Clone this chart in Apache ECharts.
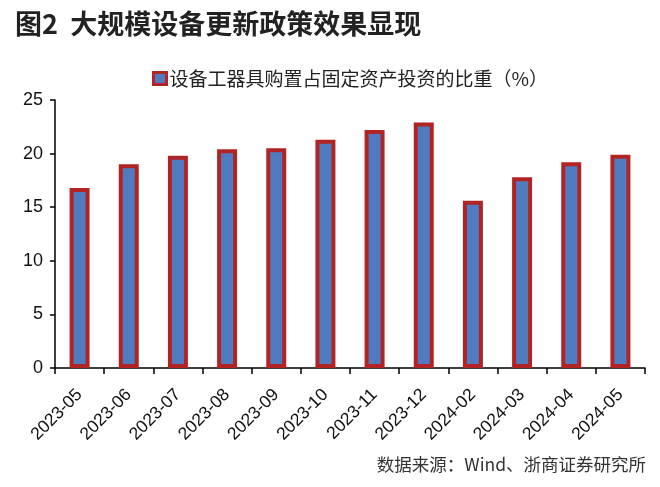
<!DOCTYPE html>
<html>
<head>
<meta charset="utf-8">
<script src="https://cdn.jsdelivr.net/npm/echarts@6/dist/echarts.min.js"></script>
<style>
html,body{margin:0;padding:0;background:#fff;}
#c{width:660px;height:487px;}
</style>
</head>
<body>
<div id="c"></div>
<script>
const categories = ['2023-05','2023-06','2023-07','2023-08','2023-09','2023-10','2023-11','2023-12','2024-02','2024-03','2024-04','2024-05'];
const shareValues = [16.8, 19.0, 19.8, 20.4, 20.5, 21.3, 22.2, 22.9, 15.6, 17.8, 19.2, 19.9];
const yTicks = [0, 5, 10, 15, 20, 25];
const seriesName = '设备工器具购置占固定资产投资的比重（%）';
const titleText = '图2  大规模设备更新政策效果显现';
const sourceText = '数据来源：Wind、浙商证券研究所';

const chart = echarts.init(document.getElementById('c'), null, {renderer:'canvas'});
chart.setOption({
  backgroundColor:'#ffffff',
  animation:false,
  title:{
    text:titleText,
    left:10, top:5,
    textStyle:{fontFamily:'Noto Sans CJK SC', fontSize:27, fontWeight:'bold', color:'#222'}
  },
  legend:{
    data:[seriesName],
    left:147, top:64,
    icon:'rect',
    itemWidth:13, itemHeight:12, itemGap:4,
    itemStyle:{color:'#4f7cc0', borderColor:'#b22424', borderWidth:3},
    textStyle:{fontFamily:'Noto Sans CJK SC', fontSize:19, color:'#222', padding:[0,0,0,-2]}
  },
  grid:{left:55, right:15, top:100, bottom:119, containLabel:false},
  xAxis:{
    type:'category',
    data:categories,
    boundaryGap:true,
    axisLine:{lineStyle:{color:'#000', width:1.5}},
    axisTick:{show:true, length:6, inside:false, lineStyle:{color:'#000', width:1.5}},
    axisLabel:{rotate:45, margin:24, interval:0, fontFamily:'Liberation Sans', fontSize:17.5, color:'#111'}
  },
  yAxis:{
    type:'value',
    min:yTicks[0], max:yTicks[yTicks.length-1], interval:5,
    splitLine:{show:false},
    axisLine:{show:true, lineStyle:{color:'#000', width:1.5}},
    axisTick:{show:true, length:5, lineStyle:{color:'#000', width:1.5}},
    axisLabel:{margin:12, fontFamily:'Liberation Sans', fontSize:18, color:'#111'}
  },
  graphic:[{
    type:'text', right:14, top:456,
    style:{text:sourceText, fontFamily:'Noto Sans CJK SC', fontSize:17.5, fill:'#333'}
  }],
  series:[{
    name:seriesName,
    type:'bar',
    data:shareValues,
    barWidth:20,
    itemStyle:{color:'#4f7cc0', borderColor:'#b22424', borderWidth:4}
  }]
});
</script>
</body>
</html>
